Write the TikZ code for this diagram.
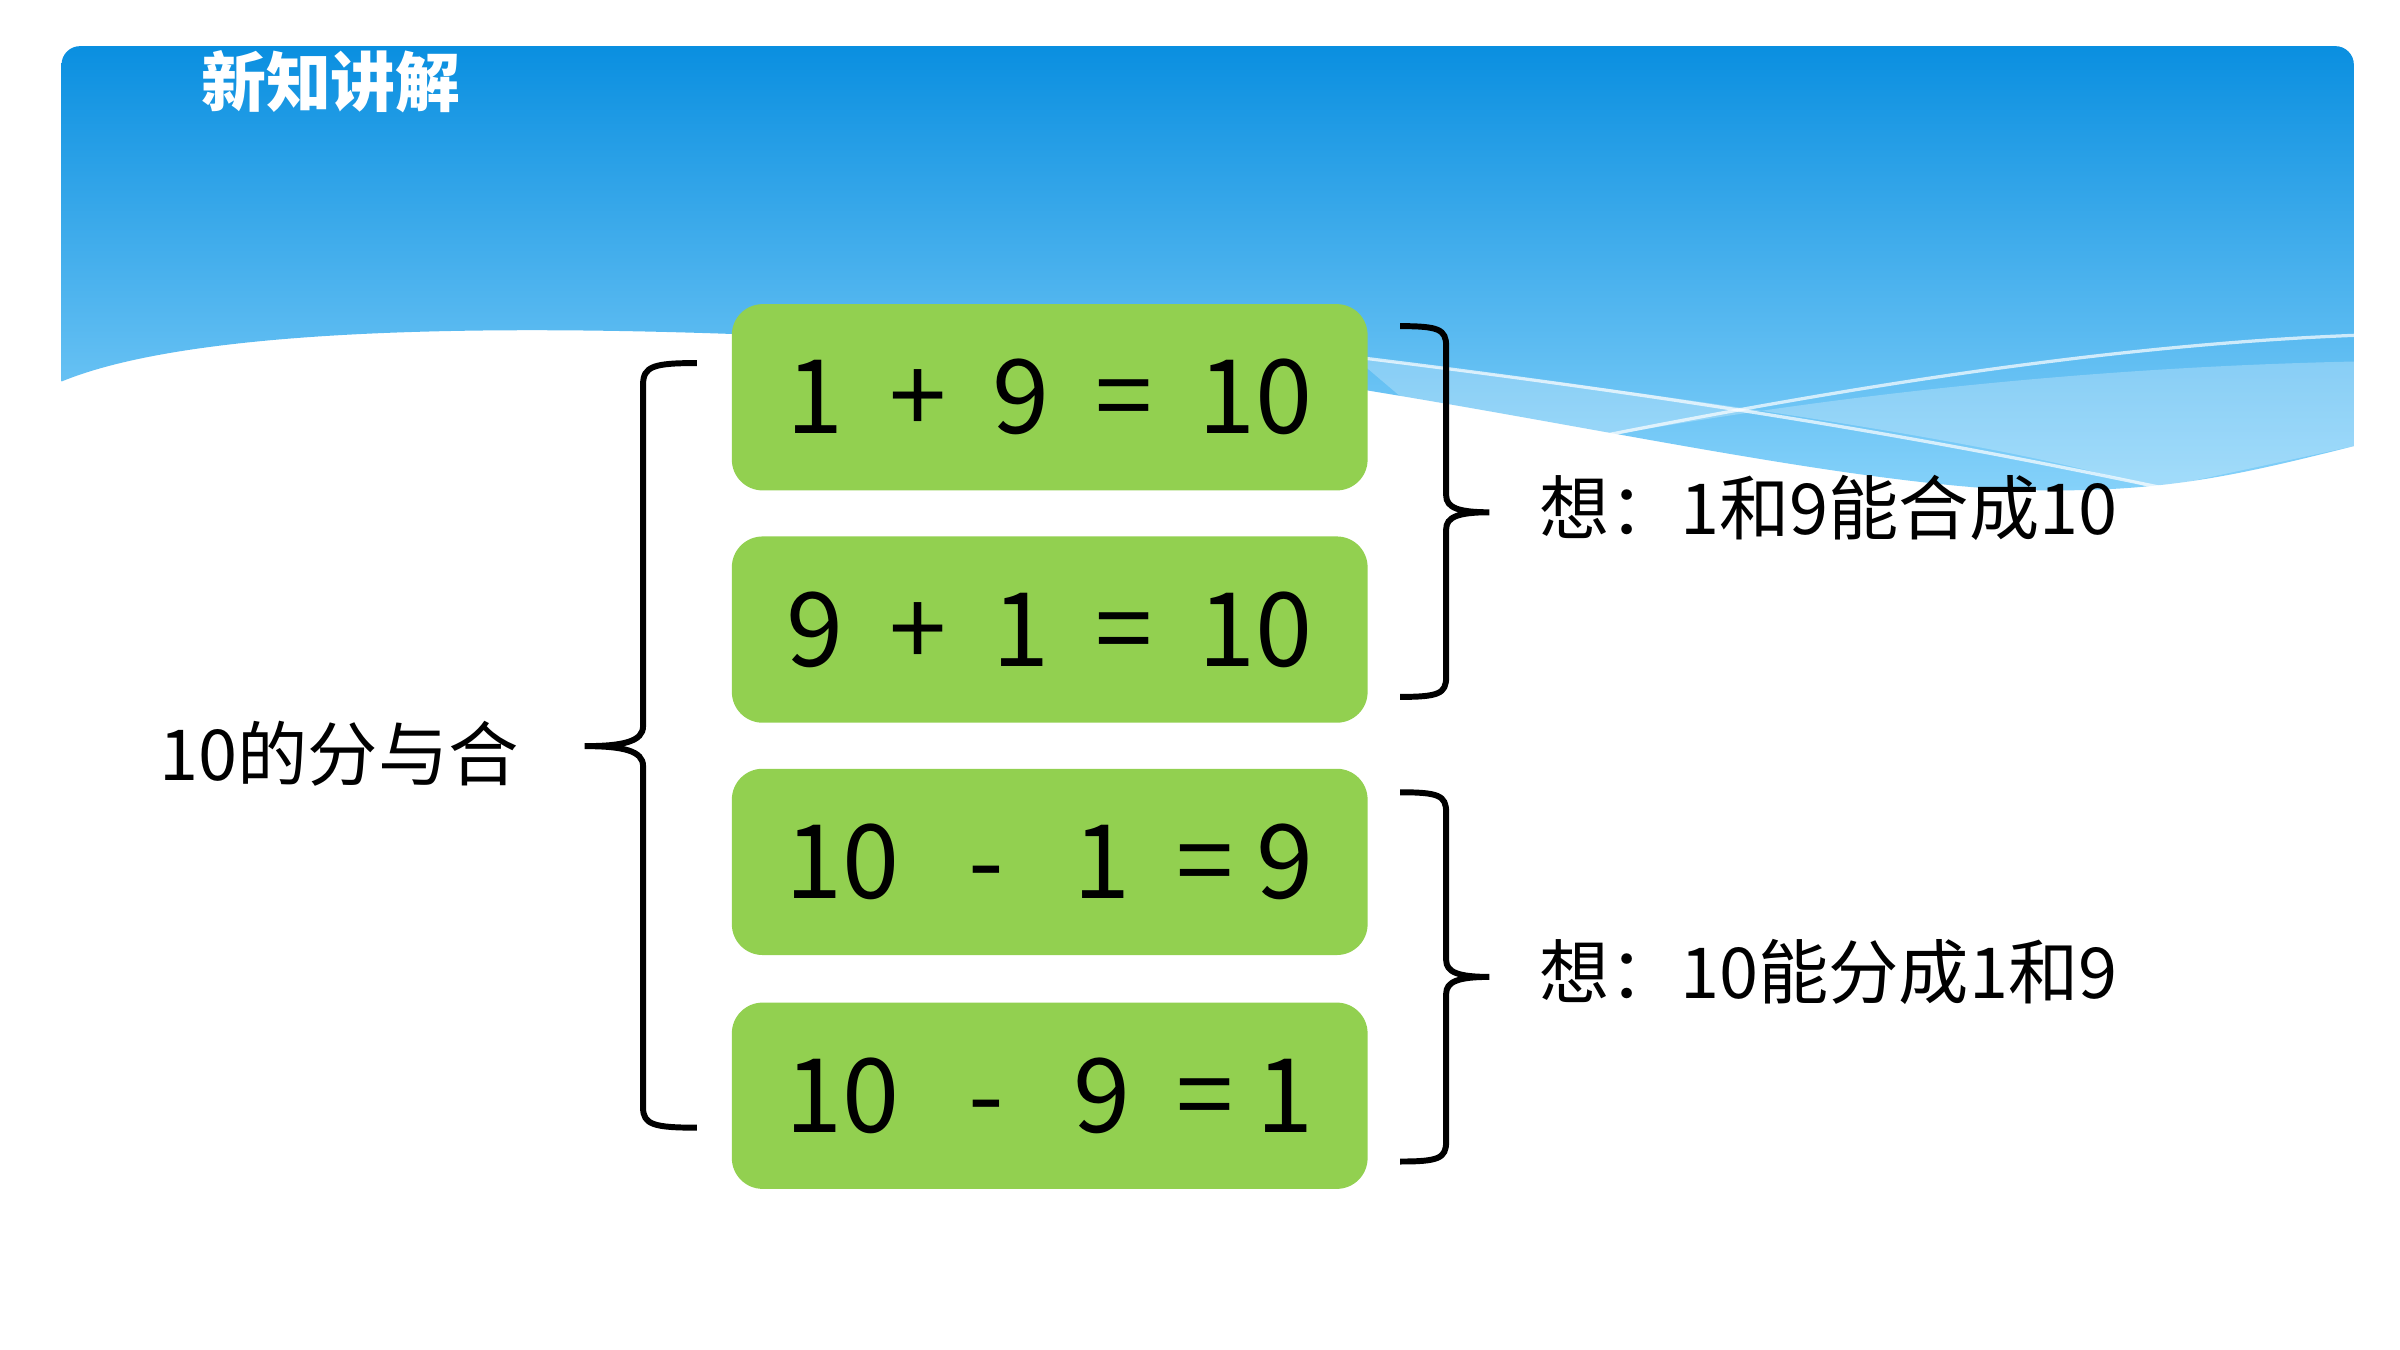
\documentclass[tikz,border=0pt]{standalone}
\usepackage{fontspec}
\setmainfont{Noto Sans CJK SC}
\begin{document}
\begin{tikzpicture}[x=0.01cm,y=-0.01cm,
  box/.style={fill=green1,rounded corners=0.2cm,minimum width=4.13cm,minimum height=1.21cm,anchor=north west,inner sep=0pt,font=\fontsize{19}{22}\selectfont},
  lab/.style={font=\fontsize{13}{15}\selectfont,anchor=west,inner sep=0pt},
  br/.style={line width=1.1pt,black}]
\definecolor{green1}{HTML}{92D050}
\definecolor{bluetop}{HTML}{0A8FE0}
\definecolor{bluebot}{HTML}{86D2FA}
\useasboundingbox (0,0) rectangle (1560,877);
\fill[white] (0,0) rectangle (1560,877);
\shade[top color=bluetop,bottom color=bluebot]
  (40,248) [rounded corners=0.12cm] -- (40,30) -- (1530,30) [sharp corners] -- (1530,290)
  .. controls (1450,310) and (1400,322) .. (1300,318)
  .. controls (1100,305) and (800,215) .. (500,218)
  .. controls (300,210) and (120,215) .. (40,248) -- cycle;
\fill[white,opacity=0.25] (880,232) .. controls (1200,270) and (1350,300) .. (1400,318) -- (1530,290) -- (1530,235) .. controls (1300,240) and (1100,270) .. (960,300) -- cycle;
\draw[white,opacity=0.7,line width=0.6pt] (880,232) .. controls (1150,265) and (1300,295) .. (1410,318);
\draw[white,opacity=0.7,line width=0.6pt] (960,300) .. controls (1150,260) and (1350,225) .. (1530,218);
\node[text=white,font=\bfseries\fontsize{12}{14}\selectfont,anchor=west,inner sep=0pt] (t) at (130,53) {新知讲解};
\node[box] (b1) at (475,197) {1\ \ +\ \ 9\ \ =\ \ 10};
\node[box] (b2) at (475,348) {9\ \ +\ \ 1\ \ =\ \ 10};
\node[box] (b3) at (475,499) {10\ \ \ -\ \ \ 1\ \ =\ 9};
\node[box] (b4) at (475,651) {10\ \ \ -\ \ \ 9\ \ =\ 1};
\node[lab] (l) at (103,490) {10的分与合};
\node[lab] (r1) at (1000,330) {想：1和9能合成10};
\node[lab] (r2) at (1000,632) {想：10能分成1和9};
\draw[br] (453,236) .. controls (425,236) and (418,238) .. (418,250) -- (418,472) .. controls (418,482) and (405,485) .. (380,485)
  .. controls (405,485) and (418,488) .. (418,498) -- (418,720) .. controls (418,731) and (425,733) .. (453,733);
\draw[br] (910,212) .. controls (935,212) and (940,214) .. (940,225) -- (940,322) .. controls (940,330) and (948,333) .. (968,333)
  .. controls (948,333) and (940,336) .. (940,344) -- (940,440) .. controls (940,451) and (935,453) .. (910,453);
\draw[br] (910,515) .. controls (935,515) and (940,517) .. (940,528) -- (940,624) .. controls (940,632) and (948,635) .. (968,635)
  .. controls (948,635) and (940,638) .. (940,646) -- (940,742) .. controls (940,753) and (935,755) .. (910,755);
\end{tikzpicture}
\end{document}
